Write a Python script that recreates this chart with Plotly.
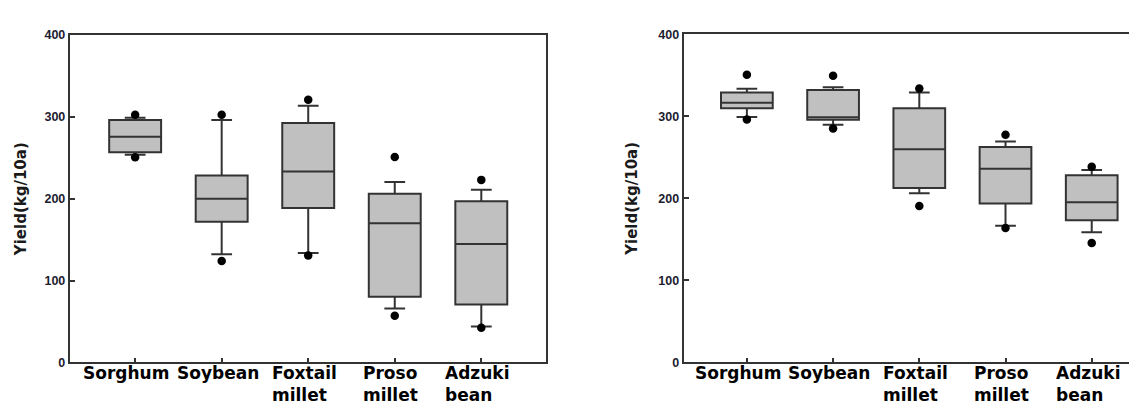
import plotly.graph_objects as go

categories = ["Sorghum", "Soybean", "Foxtail millet", "Proso millet", "Adzuki bean"]
tick_labels = ["Sorghum", "Soybean", "Foxtail<br>millet", "Proso<br>millet", "Adzuki<br>bean"]
y_ticks = [0, 100, 200, 300, 400]

# Left panel
left_lower = [253.7, 132.0, 133.7, 66.0, 44.0]
left_q1 = [256.8, 172.0, 188.8, 80.2, 70.8]
left_median = [275.7, 200.0, 233.3, 170.0, 144.8]
left_q3 = [296.0, 228.5, 292.6, 206.0, 197.0]
left_upper = [299.0, 296.0, 313.5, 220.3, 210.8]
left_out_high = [302.5, 302.5, 321.0, 251.0, 223.0]
left_out_low = [250.5, 124.0, 130.6, 57.0, 42.5]

# Right panel
right_lower = [299.2, 289.8, 206.3, 166.7, 158.8]
right_q1 = [309.8, 295.7, 212.5, 193.7, 173.3]
right_median = [316.5, 299.0, 260.0, 236.0, 195.3]
right_q3 = [329.0, 332.2, 309.8, 262.7, 228.2]
right_upper = [333.7, 335.3, 329.0, 269.4, 234.5]
right_out_high = [350.6, 349.4, 334.0, 277.6, 238.4]
right_out_low = [296.0, 285.1, 190.6, 164.0, 145.5]

W, H = 1137, 401
LINE = "#333333"
FILL = "#c0c0c0"
label_shift = [-9, -4, -4, -4, -4]

fig = go.Figure()


def add_panel(xa, ya, lower, q1, med, q3, upper, hi, lo):
    fig.add_trace(go.Box(
        x=categories, q1=q1, median=med, q3=q3,
        lowerfence=lower, upperfence=upper,
        width=0.6, whiskerwidth=0.4,
        fillcolor=FILL, line=dict(color=LINE, width=2),
        boxpoints=False, hoverinfo="skip", showlegend=False,
        xaxis=xa, yaxis=ya,
    ))
    fig.add_trace(go.Scatter(
        x=categories + categories, y=hi + lo, mode="markers",
        marker=dict(color="black", size=8.5),
        cliponaxis=False, showlegend=False, hoverinfo="skip",
        xaxis=xa, yaxis=ya,
    ))


add_panel("x", "y", left_lower, left_q1, left_median, left_q3, left_upper,
          left_out_high, left_out_low)
add_panel("x2", "y2", right_lower, right_q1, right_median, right_q3, right_upper,
          right_out_high, right_out_low)

ydom_l = [(H - 360) / H, (H - 20.7) / H]
ydom_r = [(H - 360) / H, (H - 20.0) / H]

xcommon = dict(type="category", categoryorder="array", categoryarray=categories,
               showline=True, linecolor=LINE, linewidth=2, ticks="inside",
               ticklen=4, tickwidth=1.5, tickcolor=LINE, showticklabels=False,
               showgrid=False, zeroline=False)
ycommon = dict(range=[0, 400], tickvals=y_ticks, showline=True, linecolor=LINE,
               linewidth=2, ticks="inside", ticklen=5, tickwidth=1.5,
               tickcolor=LINE, showgrid=False, zeroline=False,
               tickfont=dict(family="Liberation Sans", size=12.5, color="#1c1c30",
                             weight="bold"),
               title=dict(text="<b>Yield(kg/10a)</b>",
                          font=dict(family="DejaVu Sans", size=15, color="#1a1a1a")),
               )

fig.update_layout(
    width=W, height=H, margin=dict(l=0, r=0, t=0, b=0),
    paper_bgcolor="white", plot_bgcolor="white",
    xaxis=dict(xcommon, domain=[61.8 / W, 538.2 / W], range=[-0.755, 4.75],
               mirror=True, anchor="y"),
    yaxis=dict(ycommon, domain=ydom_l, mirror=True, anchor="x",
               title_standoff=14),
    xaxis2=dict(xcommon, domain=[675.6 / W, 1.0], range=[-0.734, 4.618],
                mirror=True, anchor="y2"),
    yaxis2=dict(ycommon, domain=ydom_r, mirror=False, anchor="x2",
                title_standoff=17),
)

# category labels (left-aligned lines, centered block under each tick)
for xa in ["x", "x2"]:
    for cat, lab, sh in zip(categories, tick_labels, label_shift):
        fig.add_annotation(
            x=cat, xref=xa, y=(H - 359) / H, yref="paper",
            text="<b>" + lab + "</b>", showarrow=False,
            xanchor="center", yanchor="top", align="left", xshift=sh,
            font=dict(family="DejaVu Sans", size=17, color="black"),
        )

fig.write_html("out.html")
